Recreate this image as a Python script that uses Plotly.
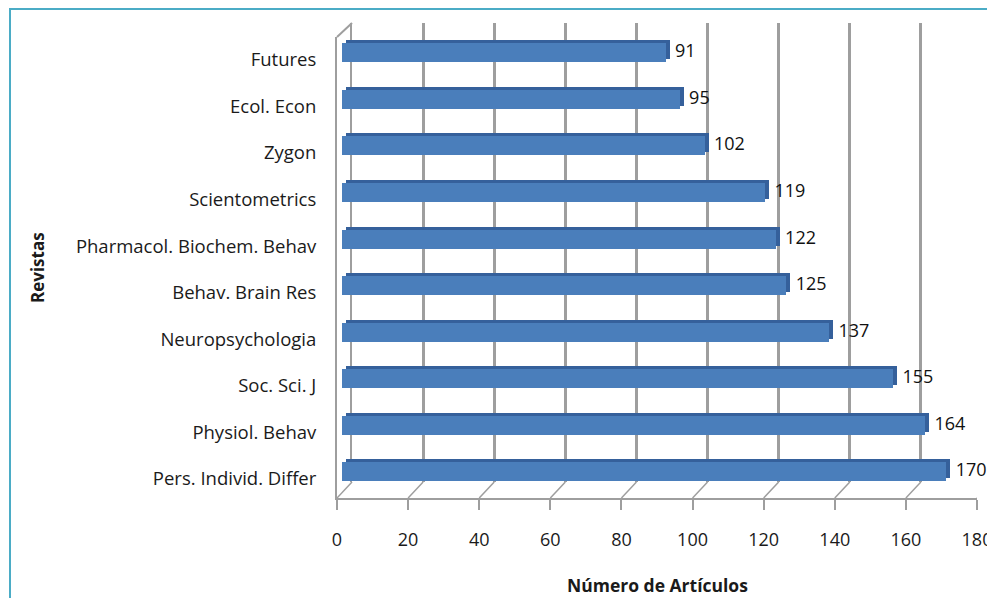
import plotly.graph_objects as go

# ---------------- data ----------------
journals = ["Pers. Individ. Differ", "Physiol. Behav", "Soc. Sci. J", "Neuropsychologia",
            "Behav. Brain Res", "Pharmacol. Biochem. Behav", "Scientometrics", "Zygon",
            "Ecol. Econ", "Futures"]
articles = [170, 164, 155, 137, 125, 122, 119, 102, 95, 91]
x_ticks = [0, 20, 40, 60, 80, 100, 120, 140, 160, 180]
x_title = "Número de Artículos"
y_title = "Revistas"

# ---------------- geometry (screen pixels; page body has an 8px margin) ----------------
OFF = 8
W, H = 995 - OFF, 606 - 2 * OFF
def fx(p): return (p - OFF) / W
def fy(p): return 1 - (p - OFF) / H

FONT = "Open Sans"
GRID = "#9e9e9e"
XR = [0, 180]
YR = [-0.41, 9.49]

fig = go.Figure()

fig.add_trace(go.Scatter(x=[None], y=[None], xaxis="x", yaxis="y", showlegend=False, hoverinfo="skip"))
fig.add_trace(go.Scatter(x=[None], y=[None], xaxis="x2", yaxis="y2", showlegend=False, hoverinfo="skip"))
fig.add_trace(go.Bar(x=articles, y=journals, orientation="h", xaxis="x3", yaxis="y3",
                     marker=dict(color="#35609b", line=dict(width=0)), width=0.41,
                     showlegend=False, hoverinfo="skip"))
fig.add_trace(go.Bar(x=articles, y=journals, orientation="h", xaxis="x4", yaxis="y4",
                     marker=dict(color="#4a7ebb", line=dict(width=0)), width=0.41,
                     showlegend=False, hoverinfo="skip"))
fig.add_trace(go.Scatter(x=articles, y=journals, mode="text",
                         texttemplate="\u00a0\u00a0%{x}",
                         textposition="middle right", xaxis="x4", yaxis="y4",
                         textfont=dict(family=FONT, size=18, color="#111111"),
                         cliponaxis=False, showlegend=False, hoverinfo="skip"))

hidden = dict(visible=False, showgrid=False, zeroline=False, automargin=False)

fig.update_layout(
    template="none",
    width=W, height=H, autosize=False,
    margin=dict(l=0, r=0, t=0, b=0, pad=0, autoexpand=False),
    paper_bgcolor="white", plot_bgcolor="rgba(0,0,0,0)",
    bargap=0,
    xaxis=dict(domain=[fx(352), fx(992)], range=XR, anchor="y", tickvals=x_ticks,
               showgrid=True, gridcolor=GRID, gridwidth=2.5, showticklabels=False,
               ticks="", zeroline=False, showline=False, automargin=False),
    yaxis=dict(domain=[fy(482), fy(23)], range=[0, 1], anchor="x", showgrid=False,
               zeroline=False, showticklabels=False, ticks="", automargin=False,
               showline=True, linecolor=GRID, linewidth=2),
    xaxis2=dict(domain=[fx(337), fx(977)], range=XR, anchor="y2", tickvals=x_ticks,
                ticks="outside", ticklen=10, tickcolor=GRID, tickwidth=1.5,
                showline=True, linecolor=GRID, linewidth=2, showgrid=False, zeroline=False,
                automargin=False,
                tickfont=dict(family=FONT, size=18, color="#1a1a1a"), ticklabelstandoff=14),
    yaxis2=dict(domain=[fy(498), fy(37)], range=YR, anchor="x2", type="category",
                categoryorder="array", categoryarray=journals, automargin=False,
                showline=True, linecolor=GRID, linewidth=2, ticks="", showgrid=False,
                zeroline=False, tickfont=dict(family=FONT, size=18.5, color="#1a1a1a"),
                ticklabelstandoff=15),
    xaxis3=dict(domain=[fx(346), fx(986)], range=XR, anchor="y3", **hidden),
    yaxis3=dict(domain=[fy(488), fy(27)], range=YR, anchor="x3", type="category",
                categoryorder="array", categoryarray=journals, **hidden),
    xaxis4=dict(domain=[fx(342), fx(982)], range=XR, anchor="y4", **hidden),
    yaxis4=dict(domain=[fy(491), fy(30)], range=YR, anchor="x4", type="category",
                categoryorder="array", categoryarray=journals, **hidden),
)

shapes = []
for v in x_ticks:
    shapes.append(dict(type="line", xref="x2", yref="paper", xsizemode="pixel", ysizemode="pixel",
                       xanchor=v, yanchor=fy(498), x0=0, x1=15, y0=0, y1=16,
                       line=dict(color=GRID, width=1.5), layer="below"))
shapes.append(dict(type="line", xref="paper", yref="paper", x0=fx(337), y0=fy(37), x1=fx(352), y1=fy(23),
                   line=dict(color=GRID, width=2), layer="below"))
shapes.append(dict(type="rect", xref="paper", yref="paper", x0=fx(10), y0=fy(9), x1=1.2, y1=-0.2,
                   line=dict(color="#4bacc6", width=2), layer="below"))
fig.update_layout(shapes=shapes)

fig.add_annotation(text=f"<b>{x_title}</b>", xref="paper", yref="paper", x=fx(657), y=fy(585),
                   xanchor="center", yanchor="middle",
                   showarrow=False, font=dict(family=FONT, size=17.5, color="#1a1a1a"))
fig.add_annotation(text=f"<b>{y_title}</b>", xref="paper", yref="paper", x=fx(38), y=fy(268),
                   xanchor="center", yanchor="middle",
                   showarrow=False, textangle=-90, font=dict(family=FONT, size=17, color="#1a1a1a"))

fig.write_html("out.html")
